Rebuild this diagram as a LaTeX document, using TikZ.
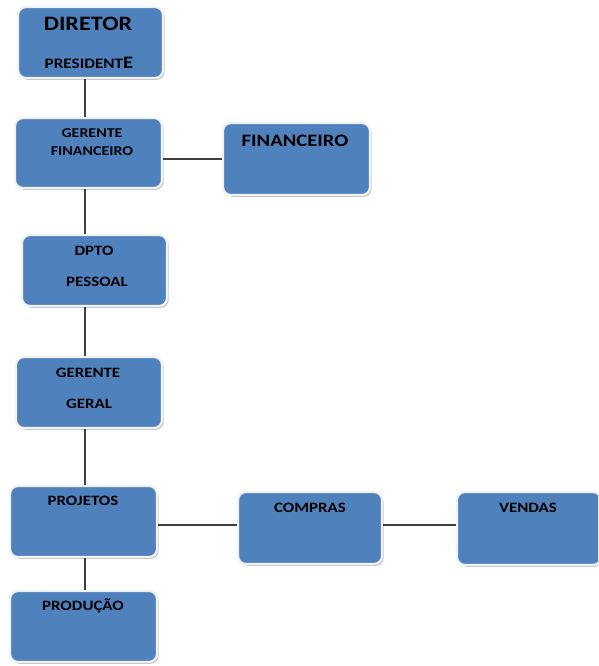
\documentclass[tikz,border=0pt]{standalone}
\usepackage{fontspec}
\usepackage{graphicx}
\setmainfont{Carlito}
\usetikzlibrary{shadows}
\definecolor{boxblue}{HTML}{4F81BD}
\definecolor{boxedge}{HTML}{F2F2F2}
\definecolor{linegray}{HTML}{3F3F3F}
\newcommand{\sxw}[1]{\scalebox{1.18}[1]{#1}}
\tikzset{
  orgbox/.style={rectangle, rounded corners=8pt, fill=boxblue, draw=boxedge, line width=2.2pt,
    drop shadow={shadow xshift=1.6pt, shadow yshift=-1.8pt, fill=black!30, opacity=0.8}, inner sep=0pt},
  lbl/.style={text=black, inner sep=0pt, align=center},
  conn/.style={draw=linegray, line width=1.2pt}
}
\begin{document}
\begin{tikzpicture}[x=1pt,y=1pt]
\useasboundingbox (0,0) rectangle (598,-666);
\begin{scope}
\clip (0,0) rectangle (598,-666);
% boxes
\node[orgbox, minimum width=145pt, minimum height=71pt] (dir) at (90.5,-42.5) {};
\node[orgbox, minimum width=147pt, minimum height=70pt] (gf) at (88.5,-153) {};
\node[orgbox, minimum width=147pt, minimum height=72pt] (fin) at (296.5,-159) {};
\node[orgbox, minimum width=145pt, minimum height=71pt] (dp) at (94.5,-270.5) {};
\node[orgbox, minimum width=146pt, minimum height=71pt] (gg) at (89,-392.5) {};
\node[orgbox, minimum width=147pt, minimum height=71pt] (proj) at (83.5,-521.5) {};
\node[orgbox, minimum width=144pt, minimum height=72pt] (comp) at (310,-528) {};
\node[orgbox, minimum width=144pt, minimum height=73pt] (vend) at (529,-528.5) {};
\node[orgbox, minimum width=147pt, minimum height=71pt] (prod) at (83.5,-626.5) {};
\end{scope}
% connectors
\coordinate (vx) at (85,0);
\draw[conn] (dir.south -| vx) -- (gf.north -| vx);
\draw[conn] (gf.south -| vx) -- (dp.north -| vx);
\draw[conn] (dp.south -| vx) -- (gg.north -| vx);
\draw[conn] (gg.south -| vx) -- (proj.north -| vx);
\draw[conn] (proj.south -| vx) -- (prod.north -| vx);
\coordinate (hy1) at (0,-159);
\coordinate (hy2) at (0,-525);
\draw[conn] (gf.east |- hy1) -- (fin.west |- hy1);
\draw[conn] (proj.east |- hy2) -- (comp.west |- hy2);
\draw[conn] (comp.east |- hy2) -- (vend.west |- hy2);
% labels
\node[lbl, font=\fontsize{20.5}{20.5}\selectfont\bfseries] (t1) at (88,-24) {\sxw{DIRETOR}};
\node[lbl, font=\fontsize{14.5}{14.5}\selectfont\bfseries] (t2) at (89,-63) {\sxw{PRESIDENT{\fontsize{17.5}{17.5}\selectfont E}}};
\node[lbl, font=\fontsize{13.5}{18}\selectfont\bfseries] (t3) at (92,-142) {\sxw{GERENTE}\\\sxw{FINANCEIRO}};
\node[lbl, font=\fontsize{17.5}{17.5}\selectfont\bfseries] (t4) at (295,-141) {\sxw{FINANCEIRO}};
\node[lbl, font=\fontsize{14.3}{14.3}\selectfont\bfseries] (t5) at (94,-251) {\sxw{DPTO}};
\node[lbl, font=\fontsize{14.3}{14.3}\selectfont\bfseries] (t6) at (97,-282) {\sxw{PESSOAL}};
\node[lbl, font=\fontsize{14.3}{14.3}\selectfont\bfseries] (t7) at (88,-373) {\sxw{GERENTE}};
\node[lbl, font=\fontsize{14.3}{14.3}\selectfont\bfseries] (t8) at (89,-404) {\sxw{GERAL}};
\node[lbl, font=\fontsize{14.3}{14.3}\selectfont\bfseries] (t9) at (83,-501) {\sxw{PROJETOS}};
\node[lbl, font=\fontsize{14.3}{14.3}\selectfont\bfseries] (t10) at (310,-508) {\sxw{COMPRAS}};
\node[lbl, font=\fontsize{14.3}{14.3}\selectfont\bfseries] (t11) at (528,-508) {\sxw{VENDAS}};
\node[lbl, font=\fontsize{14.3}{14.3}\selectfont\bfseries] (t12) at (83,-606) {\sxw{PRODUÇÃO}};
\end{tikzpicture}
\end{document}
